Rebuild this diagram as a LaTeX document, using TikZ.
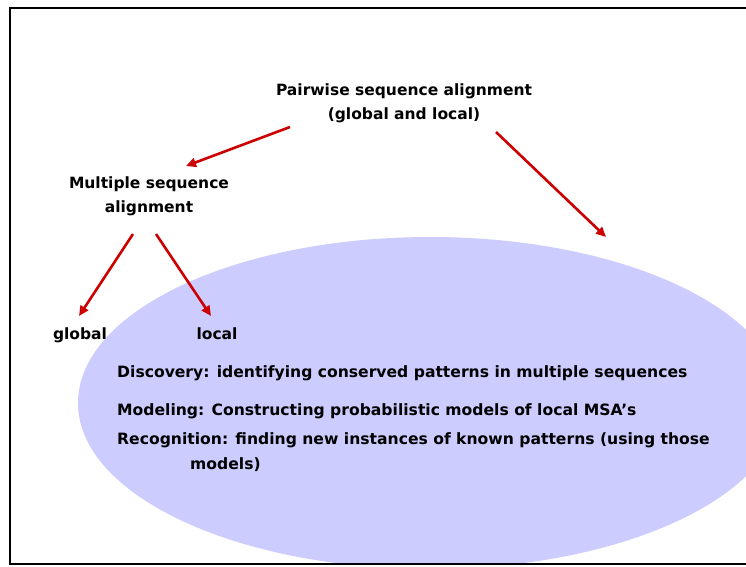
\documentclass[tikz,border=0pt]{standalone}
\usepackage{fontspec}
\setmainfont{DejaVu Sans}
\usetikzlibrary{arrows.meta}
\definecolor{ell}{HTML}{CCCCFF}
\definecolor{arr}{HTML}{CC0000}
\tikzset{
  lbl/.style={font=\bfseries\fontsize{15.5}{24}\selectfont, inner sep=0pt, align=center},
  body/.style={font=\bfseries\fontsize{15.6}{24}\selectfont, inner sep=0pt, anchor=west},
  redarrow/.style={draw=arr, line width=2.6pt, -{Triangle[length=10pt,width=9pt]}, shorten >=0pt},
}
\begin{document}
\begin{tikzpicture}[x=1pt,y=-1pt]
\useasboundingbox (0,0) rectangle (746,566);
\fill[white] (0,0) rectangle (746,566);
\begin{scope}
\clip (10,8) rectangle (746,564);
\fill[ell] (430,403) ellipse [x radius=352, y radius=166];
\end{scope}
\draw[line width=1.8pt] (746,8) -- (10,8) -- (10,564) -- (746,564);

\node[lbl] (pw) at (404,103) {Pairwise sequence alignment\\(global and local)};
\node[lbl] (msa) at (149,196) {Multiple sequence\\alignment};
\node[lbl, anchor=base] (gl) at (80,339) {global};
\node[lbl, anchor=base] (lo) at (217,339) {local};

\node[body, anchor=base west] (d1) at (117,377) {Discovery: identifying conserved patterns in multiple sequences};
\node[body, anchor=base west] (d2) at (117,415) {Modeling: Constructing probabilistic models of local MSA’s};
\node[body, anchor=base west] (d3) at (117,444) {Recognition: finding new instances of known patterns (using those};
\node[body, anchor=base west] (d4) at (190,469) {models)};

\coordinate (a1s) at (290,127);
\coordinate (a1e) at (186,166);
\coordinate (a2s) at (496,132);
\coordinate (a2e) at (606,237);
\coordinate (a3s) at (133,234);
\coordinate (a3e) at (79,316);
\coordinate (a4s) at (156,234);
\coordinate (a4e) at (211,316);
\draw[redarrow] (a1s) -- (a1e);
\draw[redarrow] (a2s) -- (a2e);
\draw[redarrow] (a3s) -- (a3e);
\draw[redarrow] (a4s) -- (a4e);
\end{tikzpicture}
\end{document}
